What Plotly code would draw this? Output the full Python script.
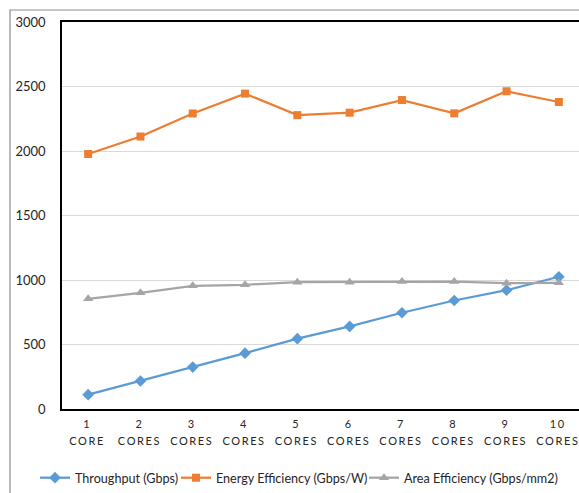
import plotly.graph_objects as go

# Core counts and their axis labels
cores = [1, 2, 3, 4, 5, 6, 7, 8, 9, 10]
core_labels = ["1<br>CORE"] + [f"{n}<br>CORES" for n in cores[1:]]

# Measured series
throughput = [111, 217, 325, 433, 545, 640, 746, 841, 921, 1025]
energy_eff = [1977, 2112, 2291, 2445, 2278, 2297, 2395, 2292, 2463, 2380]
area_eff = [854, 901, 955, 963, 983, 983, 988, 988, 975, 978]

W, H = 579, 493
L, T, B = 62, 22, 84  # margins in px
plot_w = W - L
plot_h = H - T - B
cat_px = 52.3  # width of one category slot

font_family = "Lato, 'Open Sans', sans-serif"


def px_x(px):
    return (px - L) / plot_w


def px_y(py):
    return (plot_h - (py - T)) / plot_h


fig = go.Figure()
fig.add_trace(go.Scatter(
    x=cores, y=throughput, name="Throughput (Gbps)", mode="lines+markers",
    line=dict(color="#5B9BD5", width=2.25),
    marker=dict(symbol="diamond", size=9, color="#5B9BD5"),
    legend="legend",
))
fig.add_trace(go.Scatter(
    x=cores, y=energy_eff, name="Energy Efficiency (Gbps/W)", mode="lines+markers",
    line=dict(color="#ED7D31", width=2.25),
    marker=dict(symbol="square", size=8, color="#ED7D31"),
    legend="legend2",
))
fig.add_trace(go.Scatter(
    x=cores, y=area_eff, name="Area Efficiency (Gbps/mm2)", mode="lines+markers",
    line=dict(color="#A5A5A5", width=2.25),
    marker=dict(symbol="triangle-up", size=9, color="#A5A5A5"),
    legend="legend3",
))

x_hi = 0.5 + plot_w / cat_px

# Outer chart frame
fig.add_shape(type="rect", xref="paper", yref="paper",
              x0=px_x(10), x1=1.5,
              y0=-1.0, y1=px_y(10),
              line=dict(color="#8c8c8c", width=1.2), layer="below")

legend_common = dict(orientation="h", xanchor="left", yanchor="middle",
                     y=px_y(478), font=dict(size=12.6, color="#262626"),
                     bgcolor="rgba(0,0,0,0)", borderwidth=0)

fig.update_layout(
    width=W, height=H,
    margin=dict(l=L, r=0, t=T, b=B),
    paper_bgcolor="white", plot_bgcolor="white",
    font=dict(family=font_family, color="#262626", size=12),
    showlegend=True,
    legend=dict(x=px_x(35), **legend_common),
    legend2=dict(x=px_x(176), **legend_common),
    legend3=dict(x=px_x(364), **legend_common),
    xaxis=dict(range=[0.5, x_hi], tickvals=cores, ticktext=core_labels,
               showgrid=False, zeroline=False,
               showline=True, linecolor="black", linewidth=1.5, mirror=True,
               ticks="", tickfont=dict(size=11, color="#262626"),
               ticklabelstandoff=4),
    yaxis=dict(range=[0, 3000], dtick=500, tick0=0,
               showgrid=True, gridcolor="#d9d9d9", gridwidth=1,
               zeroline=False, showline=True, linecolor="black", linewidth=1.5,
               ticks="", tickfont=dict(size=13, color="#262626"),
               ticklabelstandoff=12),
)

# Spaced capitals and wider line gap for the category labels
post = """
document.querySelectorAll('.xtick text').forEach(function(t){
  t.style.letterSpacing='1.6px';
  t.setAttribute('transform', (t.getAttribute('transform')||'') + ' translate(-1,0)');
  t.querySelectorAll('tspan.line').forEach(function(s, i){
    if (i > 0) { s.setAttribute('dy', '1.55em'); }
  });
});
"""
fig.write_html("out.html", post_script=post)
